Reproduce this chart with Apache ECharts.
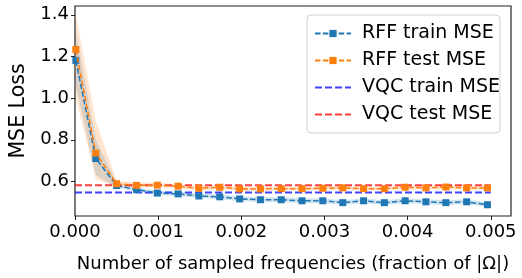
<!DOCTYPE html>
<html><head><meta charset="utf-8">
<script src="https://cdn.jsdelivr.net/npm/echarts@6/dist/echarts.min.js"></script>
<style>html,body{margin:0;padding:0;background:#fff}#c{width:522px;height:278px}</style>
</head><body><div id="c"></div>
<script>
const fractions = [0.00001,0.00025,0.00050,0.00074,0.00099,0.00124,0.00149,0.00174,0.00198,0.00223,0.00248,0.00273,0.00298,0.00322,0.00347,0.00372,0.00397,0.00422,0.00446,0.00471,0.00496];
const rffTrain = [1.181,0.710,0.580,0.561,0.544,0.540,0.530,0.526,0.516,0.512,0.512,0.507,0.507,0.498,0.507,0.498,0.507,0.502,0.498,0.502,0.488];
const rffTrainLo = [1.06,0.63,0.570,0.552,0.534,0.530,0.520,0.515,0.505,0.500,0.500,0.495,0.495,0.487,0.495,0.487,0.495,0.490,0.487,0.490,0.478];
const rffTrainHi = [1.32,0.80,0.592,0.572,0.555,0.551,0.541,0.537,0.528,0.524,0.524,0.519,0.519,0.510,0.519,0.510,0.519,0.514,0.510,0.514,0.499];
const rffTest = [1.233,0.736,0.589,0.581,0.582,0.577,0.567,0.572,0.564,0.564,0.565,0.565,0.567,0.569,0.565,0.565,0.572,0.569,0.573,0.569,0.569];
const rffTestLo = [1.00,0.61,0.575,0.570,0.572,0.567,0.557,0.562,0.554,0.554,0.556,0.556,0.558,0.560,0.556,0.556,0.562,0.560,0.562,0.560,0.560];
const rffTestHi = [1.40,0.89,0.605,0.595,0.594,0.588,0.578,0.583,0.575,0.575,0.575,0.575,0.577,0.579,0.575,0.575,0.583,0.579,0.585,0.579,0.579];
const vqcTrain = 0.547;
const vqcTest = 0.582;
const vqcRange = [0, 0.005];
const xTicks = [0, 0.001, 0.002, 0.003, 0.004, 0.005];
const yTicks = [0.6, 0.8, 1.0, 1.2, 1.4];
const seriesNames = ['RFF train MSE','RFF test MSE','VQC train MSE','VQC test MSE'];

const FONT = 'DejaVu Sans';
const chart = echarts.init(document.getElementById('c'), null, {renderer:'canvas'});

function band(lo, hi, color, z){
  return {
    type:'custom', silent:true, z:z,
    data: fractions.map((x,i)=>[x, lo[i], hi[i]]),
    renderItem: function(params, api){
      if (params.dataIndex !== 0) return null;
      const pts = [];
      for (let i=0;i<fractions.length;i++) pts.push(api.coord([fractions[i], hi[i]]));
      for (let i=fractions.length-1;i>=0;i--) pts.push(api.coord([fractions[i], lo[i]]));
      return {type:'polygon', shape:{points:pts}, style:{fill:color, stroke:null}};
    },
    encode:{x:0, y:[1,2]}
  };
}

const option = {
  animation:false,
  textStyle:{fontFamily:FONT},
  grid:{left:65, right:11, top:6, bottom:54, show:true, borderColor:'#222', borderWidth:1.2, backgroundColor:'transparent'},
  xAxis:{
    type:'value', min:0, max:0.005243,
    name:'Number of sampled frequencies (fraction of |Ω|)',
    nameLocation:'middle', nameGap:39,
    nameTextStyle:{fontFamily:FONT, fontSize:18, color:'#000'},
    axisLine:{show:false},
    axisTick:{show:true, length:4, lineStyle:{color:'#222'}, customValues:xTicks},
    axisLabel:{fontFamily:FONT, fontSize:18, color:'#000', margin:7, customValues:xTicks, formatter:v=>v.toFixed(3)},
    splitLine:{show:false}
  },
  yAxis:{
    type:'value', min:0.434, max:1.442,
    name:'MSE Loss', nameLocation:'middle', nameGap:46,
    nameTextStyle:{fontFamily:FONT, fontSize:20.5, color:'#000'},
    axisLine:{show:false},
    axisTick:{show:true, length:4, lineStyle:{color:'#222'}, customValues:yTicks},
    axisLabel:{fontFamily:FONT, fontSize:18, color:'#000', margin:6, customValues:yTicks, formatter:v=>v.toFixed(1)},
    splitLine:{show:false}
  },
  legend:{
    data:[
      {name:seriesNames[0]},
      {name:seriesNames[1]},
      {name:seriesNames[2], itemStyle:{opacity:0}},
      {name:seriesNames[3], itemStyle:{opacity:0}}
    ],
    orient:'vertical', left:307, top:15,
    padding:[8,0,8,7], itemGap:6, itemWidth:36, itemHeight:9,
    backgroundColor:'rgba(255,255,255,0.85)', borderColor:'#d0d0d0', borderWidth:1, borderRadius:4,
    textStyle:{fontFamily:FONT, fontSize:19, color:'#000', lineHeight:21, padding:[0,0,0,6]}
  },
  series:[
    band(rffTrainLo, rffTrainHi, 'rgba(31,119,180,0.2)', 1),
    band(rffTestLo, rffTestHi, 'rgba(255,127,14,0.2)', 1),
    {name:seriesNames[2], type:'line', z:2, symbol:'none', data:vqcRange.map(x=>[x,vqcTrain]),
     lineStyle:{color:'rgba(0,0,255,0.75)', width:2, type:[7,3]}, itemStyle:{color:'rgba(0,0,255,0.75)'}},
    {name:seriesNames[3], type:'line', z:2, symbol:'none', data:vqcRange.map(x=>[x,vqcTest]),
     lineStyle:{color:'rgba(255,0,0,0.75)', width:2, type:[7,3]}, itemStyle:{color:'rgba(255,0,0,0.75)'}},
    {name:seriesNames[0], type:'line', z:3, symbol:'rect', symbolSize:7, showAllSymbol:true,
     data:fractions.map((x,i)=>[x,rffTrain[i]]),
     lineStyle:{color:'#1f77b4', width:1.5, type:[5.5,2.4]}, itemStyle:{color:'#1f77b4'}},
    {name:seriesNames[1], type:'line', z:4, symbol:'rect', symbolSize:7, showAllSymbol:true,
     data:fractions.map((x,i)=>[x,rffTest[i]]),
     lineStyle:{color:'#ff7f0e', width:1.5, type:[5.5,2.4]}, itemStyle:{color:'#ff7f0e'}}
  ]
};
chart.setOption(option);
</script></body></html>
